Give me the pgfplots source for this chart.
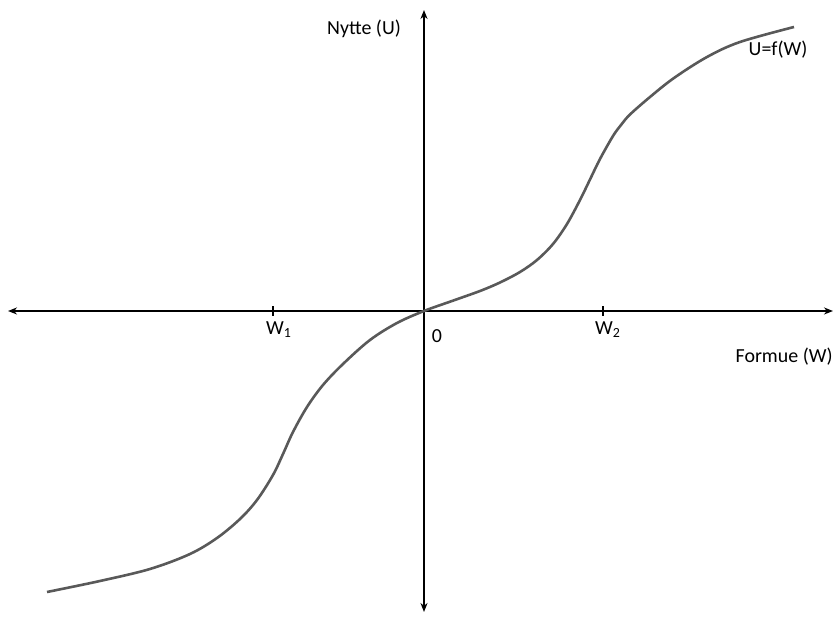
\documentclass[border=0pt]{standalone}
\usepackage{pgfplots}
\pgfplotsset{compat=1.18}
\usepackage{fontspec}
\setmainfont{Carlito}
\usetikzlibrary{arrows.meta}
\begin{document}
\begin{tikzpicture}
\begin{axis}[
  x=0.5bp, y=0.5bp,
  axis lines=middle,
  xmin=-416, xmax=409, ymin=-301, ymax=301,
  xtick={-151,179}, xticklabels={,},
  ytick=\empty,
  tick align=center,
  major tick length=5bp,
  tick style={black, line width=0.6bp},
  axis line style={line width=0.75bp, black, {Stealth[length=4.5bp,width=3.5bp]}-{Stealth[length=4.5bp,width=3.5bp]}},
  clip=false,
  font=\fontsize{10}{12}\selectfont,
]
\addplot[smooth, tension=0.55, color=black!65, line width=1.3bp] coordinates {
(-377,-281) (-324,-270) (-274,-258) (-234,-243) (-207,-227) (-184,-208)
(-167,-189) (-151,-164) (-141,-143) (-131,-121) (-117,-96) (-101,-74)
(-81,-53) (-54,-29) (-27,-12) (0,0)
(28,10) (56,20) (76,28.5) (96,39) (113,51) (129,67) (143,87) (156,111)
(166,131.5) (176,152) (189,175) (197,186) (206,196.5) (226,214) (250,233) (283,254)
(316,269) (370,284)
};
\node[font=\fontsize{10}{12}\selectfont] at (axis cs:-60,282) {Nytte (U)};
\node[font=\fontsize{10}{12}\selectfont] at (axis cs:354,261) {U=f(W)};
\node[font=\fontsize{10}{12}\selectfont, anchor=east, inner xsep=0pt] at (axis cs:409,-46) {Formue (W)};
\node[font=\fontsize{10}{12}\selectfont] at (axis cs:13,-25) {0};
\node[font=\fontsize{10}{12}\selectfont] at (axis cs:-145,-19) {W\textsubscript{1}};
\node[font=\fontsize{10}{12}\selectfont] at (axis cs:184,-19) {W\textsubscript{2}};
\coordinate (bl) at (axis cs:-424,-306);
\coordinate (tr) at (axis cs:409,311);
\end{axis}
\pgfresetboundingbox
\path (bl) rectangle (tr);
\end{tikzpicture}
\end{document}
